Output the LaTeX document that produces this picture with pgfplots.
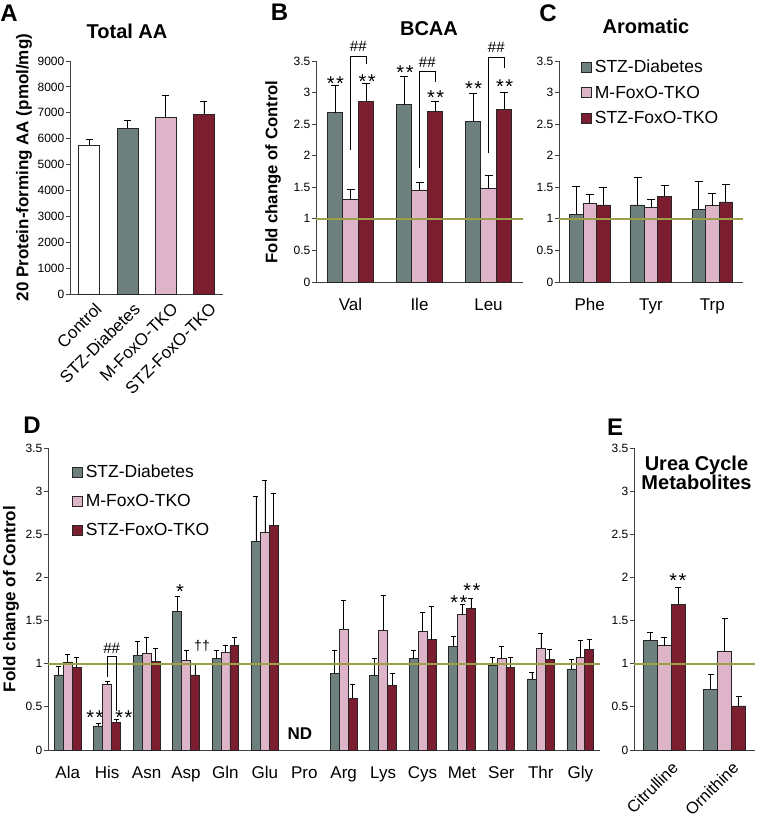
\documentclass[border=0pt]{standalone}
\usepackage{fontspec}
\setmainfont{Liberation Sans}
\usepackage{pgfplots}
\pgfplotsset{compat=1.18}
\definecolor{cgray}{HTML}{6E807E}
\definecolor{cpink}{HTML}{DEB4C8}
\definecolor{cred}{HTML}{7A1E30}
\definecolor{cline}{HTML}{9C9E48}
\definecolor{caxis}{HTML}{404040}
\newcommand{\fsz}[1]{\fontsize{#1}{#1}\selectfont}
\pgfplotsset{
  mybar/.style={fill=#1, draw=black!85, line width=0.6pt,
    legend image code/.code={\draw[fill=#1, draw=black!85, line width=0.6pt] (0pt,-5pt) rectangle (10pt,5pt);}},
  panel/.style={
    scale only axis, anchor=south west, clip=false,
    axis x line*=bottom, axis y line*=left,
    axis line style={draw=caxis, line width=0.8pt},
    xtick style={draw=none},
    ytick style={draw=caxis, line width=0.8pt},
    major tick length=4pt, tick align=outside,
    ymin=0,
    yticklabel style={font=\fsz{12}, inner sep=1.5pt},
    xticklabel style={font=\fsz{17}},
    /pgf/number format/assume math mode=true,
    /pgf/number format/1000 sep={},
    scaled y ticks=false,
    error bars/y dir=plus, error bars/y explicit,
    error bars/error bar style={black, line width=0.7pt},
    legend cell align=left,
  },
  catlab/.style={xticklabel style={yshift=-9pt}},
  fold/.style={ymax=3.5, ytick={0,0.5,1,1.5,2,2.5,3,3.5}},
  emark/.style={error bars/error mark=|, error bars/error mark options={black, line width=0.7pt, mark size=#1}},
}
\tikzset{
  star/.style={font=\fsz{20}, anchor=base, yshift=-11.4pt, inner sep=0pt},
  hash/.style={font=\fsz{15}, anchor=base, yshift=-5.2pt, inner sep=0pt},
  brk/.style={draw=black, line width=0.7pt},
  refl/.style={draw=cline, line width=1.7pt},
}
\newcommand{\stars}{*\kern1.5pt*}
\begin{document}
\begin{tikzpicture}[x=1pt,y=1pt]
\useasboundingbox (0,0) rectangle (762,820);

% ---------- A ----------
\begin{axis}[panel, at={(70pt,526pt)}, width=153pt, height=233pt,
  xmin=-0.5, xmax=3.5, ymax=9000, ytick={0,1000,2000,3000,4000,5000,6000,7000,8000,9000},
  xtick={0,1,2,3}, xticklabels={Control,STZ-Diabetes,M-FoxO-TKO,STZ-FoxO-TKO},
  xticklabel style={rotate=45, anchor=north east, inner sep=1pt, xshift=2pt, yshift=-5pt},
  ybar, bar width=21pt, emark=3.5pt]
\addplot[mybar=white, bar shift=0pt] coordinates {(0,5760) +- (0,230)};
\addplot[mybar=cgray, bar shift=0pt] coordinates {(1,6400) +- (0,310)};
\addplot[mybar=cpink, bar shift=0pt] coordinates {(2,6825) +- (0,835)};
\addplot[mybar=cred, bar shift=0pt] coordinates {(3,6954) +- (0,476)};
\end{axis}

% ---------- B ----------
\begin{axis}[panel, fold, catlab, at={(316pt,538pt)}, width=207pt, height=221pt,
  xmin=-0.5, xmax=2.5, xtick={0,1,2}, xticklabels={Val,Ile,Leu},
  ybar=0pt, bar width=15.5pt, emark=4pt]
\addplot[mybar=cgray] coordinates {(0,2.68) +- (0,0.43) (1,2.81) +- (0,0.44) (2,2.54) +- (0,0.45)};
\addplot[mybar=cpink] coordinates {(0,1.31) +- (0,0.15) (1,1.46) +- (0,0.12) (2,1.48) +- (0,0.21)};
\addplot[mybar=cred] coordinates {(0,2.86) +- (0,0.28) (1,2.70) +- (0,0.16) (2,2.73) +- (0,0.28)};
\draw[refl] (axis cs:-0.5,1) -- (axis cs:2.5,1);
\node[star] at (axis cs:-0.22,3.215) {\stars};
\node[star] at (axis cs:0.24,3.25) {\stars};
\node[star] at (axis cs:0.79,3.39) {\stars};
\node[star] at (axis cs:1.235,2.99) {\stars};
\node[star] at (axis cs:1.785,3.14) {\stars};
\node[star] at (axis cs:2.235,3.17) {\stars};
\draw[brk] (axis cs:0,2.09) -- (axis cs:0,3.58) -- (axis cs:0.225,3.58) -- (axis cs:0.225,3.45);
\draw[brk] (axis cs:1,1.81) -- (axis cs:1,3.34) -- (axis cs:1.225,3.34) -- (axis cs:1.225,3.16);
\draw[brk] (axis cs:2,2.04) -- (axis cs:2,3.55) -- (axis cs:2.225,3.55) -- (axis cs:2.225,3.39);
\node[hash] at (axis cs:0.1125,3.74) {\#\#};
\node[hash] at (axis cs:1.1125,3.48) {\#\#};
\node[hash] at (axis cs:2.1125,3.71) {\#\#};
\end{axis}

% ---------- C ----------
\begin{axis}[panel, fold, catlab, at={(559pt,538pt)}, width=184pt, height=221pt,
  xmin=-0.5, xmax=2.5, xtick={0,1,2}, xticklabels={Phe,Tyr,Trp},
  ybar=0pt, bar width=13.5pt, emark=4pt,
  legend style={draw=none, fill=none, at={(axis description cs:0.12,1.01)}, anchor=north west,
    font=\fsz{17.5}, row sep=9.7pt, column sep=2pt, inner sep=0pt, nodes={inner sep=1pt}}]
\addplot[mybar=cgray] coordinates {(0,1.07) +- (0,0.44) (1,1.22) +- (0,0.44) (2,1.15) +- (0,0.44)};
\addplot[mybar=cpink] coordinates {(0,1.24) +- (0,0.15) (1,1.18) +- (0,0.13) (2,1.21) +- (0,0.20)};
\addplot[mybar=cred] coordinates {(0,1.22) +- (0,0.28) (1,1.36) +- (0,0.17) (2,1.27) +- (0,0.28)};
\legend{STZ-Diabetes,M-FoxO-TKO,STZ-FoxO-TKO}
\draw[refl] (axis cs:-0.5,1) -- (axis cs:2.5,1);
\end{axis}

% ---------- D ----------
\begin{axis}[panel, fold, catlab, at={(48pt,70pt)}, width=552pt, height=302pt,
  xmin=-0.5, xmax=13.5, xtick={0,1,2,3,4,5,6,7,8,9,10,11,12,13},
  xticklabels={Ala,His,Asn,Asp,Gln,Glu,Pro,Arg,Lys,Cys,Met,Ser,Thr,Gly},
  ybar=0pt, bar width=8.9pt, emark=2.5pt,
  legend style={draw=none, fill=none, at={(axis description cs:0.0435,0.947)}, anchor=north west,
    font=\fsz{17.5}, row sep=13.2pt, column sep=2pt, inner sep=0pt, nodes={inner sep=1pt}}]
\addplot[mybar=cgray] coordinates {(0,0.87) +- (0,0.10) (1,0.28) +- (0,0.03) (2,1.10) +- (0,0.16) (3,1.61) +- (0,0.17) (4,1.06) +- (0,0.10) (5,2.42) +- (0,0.52) (7,0.89) +- (0,0.27) (8,0.86) +- (0,0.20) (9,1.06) +- (0,0.09) (10,1.20) +- (0,0.12) (11,0.98) +- (0,0.09) (12,0.82) +- (0,0.08) (13,0.94) +- (0,0.11)};
\addplot[mybar=cpink] coordinates {(0,1.02) +- (0,0.09) (1,0.76) +- (0,0.03) (2,1.12) +- (0,0.19) (3,1.04) +- (0,0.12) (4,1.13) +- (0,0.08) (5,2.52) +- (0,0.61) (7,1.40) +- (0,0.33) (8,1.39) +- (0,0.40) (9,1.37) +- (0,0.22) (10,1.57) +- (0,0.12) (11,1.06) +- (0,0.14) (12,1.18) +- (0,0.17) (13,1.07) +- (0,0.20)};
\addplot[mybar=cred] coordinates {(0,0.96) +- (0,0.11) (1,0.32) +- (0,0.03) (2,1.03) +- (0,0.15) (3,0.87) +- (0,0.14) (4,1.21) +- (0,0.09) (5,2.60) +- (0,0.38) (7,0.60) +- (0,0.16) (8,0.75) +- (0,0.14) (9,1.28) +- (0,0.39) (10,1.64) +- (0,0.12) (11,0.96) +- (0,0.11) (12,1.05) +- (0,0.12) (13,1.17) +- (0,0.11)};
\legend{STZ-Diabetes,M-FoxO-TKO,STZ-FoxO-TKO}
\draw[refl] (axis cs:-0.5,1) -- (axis cs:13.5,1);
\node[star] at (axis cs:0.692,0.429) {\stars};
\node[star] at (axis cs:1.427,0.429) {\stars};
\draw[brk] (axis cs:1,0.85) -- (axis cs:1,1.08) -- (axis cs:1.226,1.08) -- (axis cs:1.226,0.45);
\node[hash] at (axis cs:1.113,1.18) {\#\#};
\node[star] at (axis cs:2.848,1.889) {*};
\node[font=\fsz{14}, anchor=base, yshift=-3.8pt, inner sep=0pt] at (axis cs:3.406,1.194) {††};
\node[font=\bfseries\fsz{17}, anchor=base, yshift=-6.1pt, inner sep=0pt] at (axis cs:5.89,0.197) {ND};
\node[star] at (axis cs:9.92,1.761) {\stars};
\node[star] at (axis cs:10.25,1.90) {\stars};
\end{axis}

% ---------- E ----------
\begin{axis}[panel, fold, at={(634pt,70pt)}, width=121pt, height=302pt,
  xmin=-0.5, xmax=1.5, xtick={0,1}, xticklabels={Citrulline,Ornithine},
  xticklabel style={font=\fsz{16.5}, rotate=45, anchor=north east, inner sep=1pt, yshift=-8pt, xshift=1pt},
  ybar=0pt, bar width=14pt, emark=3pt]
\addplot[mybar=cgray] coordinates {(0,1.27) +- (0,0.09) (1,0.70) +- (0,0.18)};
\addplot[mybar=cpink] coordinates {(0,1.21) +- (0,0.10) (1,1.14) +- (0,0.38)};
\addplot[mybar=cred] coordinates {(0,1.69) +- (0,0.20) (1,0.51) +- (0,0.11)};
\draw[refl] (axis cs:-0.5,1) -- (axis cs:1.5,1);
\node[star] at (axis cs:0.227,2.016) {\stars};
\end{axis}

% ---------- panel letters, titles, y labels ----------
\begin{scope}[every node/.style={inner sep=0pt}]
\node[font=\bfseries\fsz{24}] at (9,806.5) {A};
\node[font=\bfseries\fsz{24}] at (279.5,807.5) {B};
\node[font=\bfseries\fsz{24}] at (548,806.5) {C};
\node[font=\bfseries\fsz{24}] at (32,395) {D};
\node[font=\bfseries\fsz{24}] at (615,393) {E};
\node[font=\bfseries\fsz{20}] at (127,789) {Total AA};
\node[font=\bfseries\fsz{20}] at (429,791.5) {BCAA};
\node[font=\bfseries\fsz{20}] at (646,794) {Aromatic};
\node[font=\bfseries\fontsize{20}{19}\selectfont, align=center] at (696.5,347.5) {Urea Cycle\\Metabolites};
\node[font=\bfseries\fsz{17}, rotate=90] at (24,652.5) {20 Protein-forming AA (pmol/mg)};
\node[font=\bfseries\fsz{16.7}, rotate=90] at (273,648) {Fold change of Control};
\node[font=\bfseries\fsz{17}, rotate=90] at (11,221) {Fold change of Control};
\end{scope}
\end{tikzpicture}
\end{document}
